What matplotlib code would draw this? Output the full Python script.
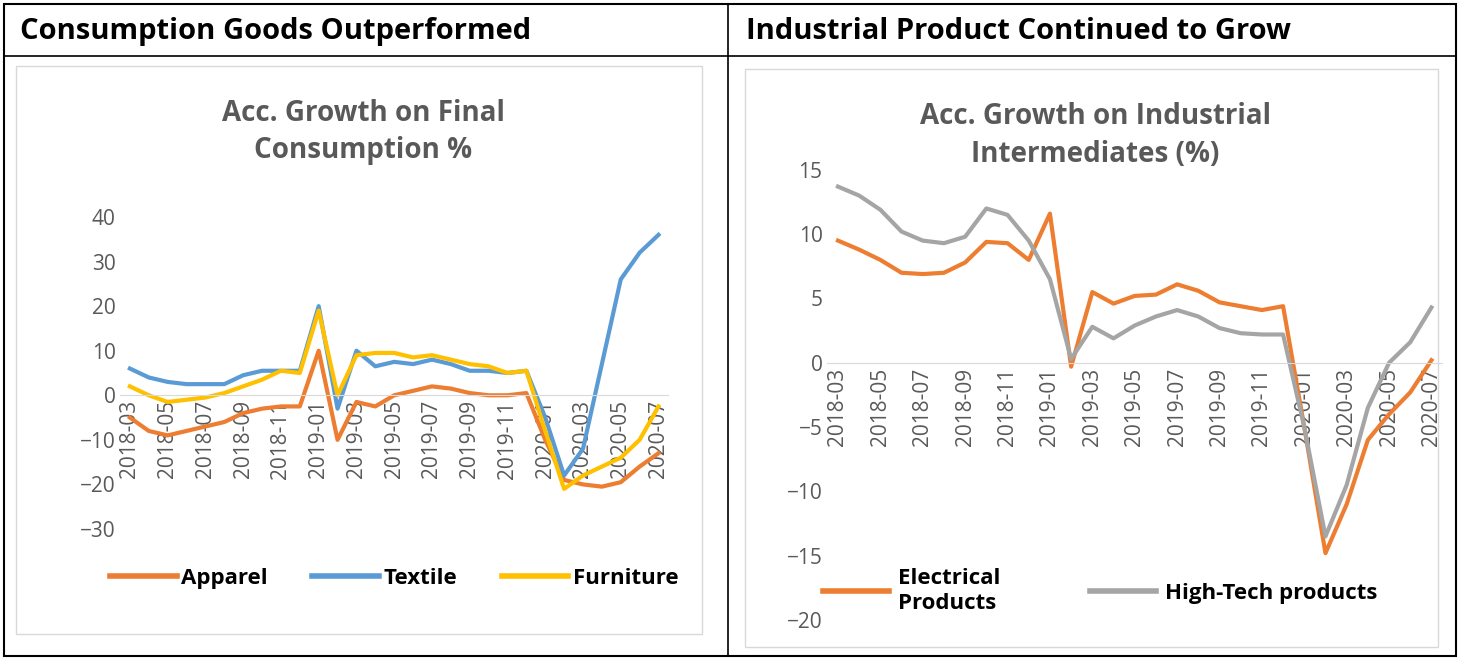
import matplotlib.pyplot as plt
from matplotlib.patches import Rectangle
from matplotlib.lines import Line2D

plt.rcParams['font.family'] = ['Open Sans', 'DejaVu Sans']

months = [f"{2018 + (m - 1) // 12}-{(m - 1) % 12 + 1:02d}" for m in range(3, 32)]

apparel = [-5, -8, -9, -8, -7, -6, -4, -3, -2.5, -2.5, 10, -10, -1.5, -2.5, 0, 1, 2, 1.5,
           0.5, 0, 0, 0.5, -10, -19, -20, -20.5, -19.5, -16, -13]
textile = [6, 4, 3, 2.5, 2.5, 2.5, 4.5, 5.5, 5.5, 5.5, 20, -3, 10, 6.5, 7.5, 7, 8, 7,
           5.5, 5.5, 5, 5.5, -5, -18, -12, 7, 26, 32, 36]
furniture = [2, 0, -1.5, -1, -0.5, 0.5, 2, 3.5, 5.5, 5, 19, 0, 9, 9.5, 9.5, 8.5, 9, 8,
             7, 6.5, 5, 5.5, -8, -21, -18, -16, -14, -10, -2.5]
electrical = [9.5, 8.8, 8.0, 7.0, 6.9, 7.0, 7.8, 9.4, 9.3, 8.0, 11.6, -0.3, 5.5, 4.6, 5.2,
              5.3, 6.1, 5.6, 4.7, 4.4, 4.1, 4.4, -5, -14.8, -11, -6, -4, -2.3, 0.2]
hightech = [13.7, 13, 11.9, 10.2, 9.5, 9.3, 9.8, 12, 11.5, 9.5, 6.5, 0.3, 2.8, 1.9, 2.9,
            3.6, 4.1, 3.6, 2.7, 2.3, 2.2, 2.2, -5, -13.5, -9.5, -3.5, 0, 1.6, 4.3]

ORANGE, BLUE, YELLOW, GRAY = "#ED7D31", "#5B9BD5", "#FFC000", "#A5A5A5"
TXT = "#595959"

fig = plt.figure(figsize=(14.6, 6.6), dpi=100)

# outer table frame
fig.add_artist(Rectangle((0.003, 0.006), 0.994, 0.988, fill=False, lw=1.5, ec="black",
                         transform=fig.transFigure))
fig.add_artist(Line2D([0.003, 0.997], [0.915, 0.915], color="black", lw=1.2))
fig.add_artist(Line2D([0.4986, 0.4986], [0.006, 0.994], color="black", lw=1.2))
fig.text(0.014, 0.953, "Consumption Goods Outperformed", fontsize=21, fontweight="bold", va="center")
fig.text(0.511, 0.953, "Industrial Product Continued to Grow", fontsize=21, fontweight="bold", va="center")
# inner chart frames
fig.add_artist(Rectangle((0.011, 0.04), 0.47, 0.86, fill=False, lw=1, ec="#D9D9D9"))
fig.add_artist(Rectangle((0.51, 0.02), 0.475, 0.875, fill=False, lw=1, ec="#D9D9D9"))


def style(ax, ylim, yticks):
    ax.set_xlim(-0.5, 28.5)
    ax.set_ylim(*ylim)
    ax.set_yticks(yticks)
    ax.spines['bottom'].set_position(('data', 0))
    ax.spines['bottom'].set_color("#D9D9D9")
    for s in ['top', 'right', 'left']:
        ax.spines[s].set_visible(False)
    ax.set_xticks(range(0, 29, 2))
    ax.set_xticklabels(months[::2], rotation=90)
    ax.tick_params(length=0, colors=TXT, labelsize=15)
    ax.patch.set_alpha(0)


ax1 = fig.add_axes([0.0825, 0.1985, 0.375, 0.4727])
x = range(len(months))
ax1.plot(x, apparel, color=ORANGE, lw=3)
ax1.plot(x, textile, color=BLUE, lw=3)
ax1.plot(x, furniture, color=YELLOW, lw=3)
style(ax1, (-30, 40), range(-30, 41, 10))
fig.text(0.249, 0.80, "Acc. Growth on Final\nConsumption %", ha="center", va="center",
         fontsize=20, fontweight="bold", color=TXT, linespacing=1.4)
ax1.legend([Line2D([], [], color=c, lw=4) for c in (ORANGE, BLUE, YELLOW)],
           ["Apparel", "Textile", "Furniture"], loc="upper center",
           bbox_to_anchor=(0.5, -0.06), ncol=3, frameon=False,
           prop={"size": 16, "weight": "bold"}, handlelength=3, columnspacing=2,
           handletextpad=0.2)

ax2 = fig.add_axes([0.5667, 0.0606, 0.421, 0.682])
ax2.plot(x, electrical, color=ORANGE, lw=3)
ax2.plot(x, hightech, color=GRAY, lw=3)
style(ax2, (-20, 15), range(-20, 16, 5))
fig.text(0.75, 0.795, "Acc. Growth on Industrial\nIntermediates (%)", ha="center", va="center",
         fontsize=20, fontweight="bold", color=TXT, linespacing=1.4)
ax2.legend([Line2D([], [], color=c, lw=4) for c in (ORANGE, GRAY)],
           ["Electrical\nProducts", "High-Tech products"], loc="lower left",
           bbox_to_anchor=(-0.04, -0.03), ncol=2, frameon=False,
           prop={"size": 16, "weight": "bold"}, handlelength=3, columnspacing=4,
           handletextpad=0.4)

fig.savefig("out.png", dpi=100)
